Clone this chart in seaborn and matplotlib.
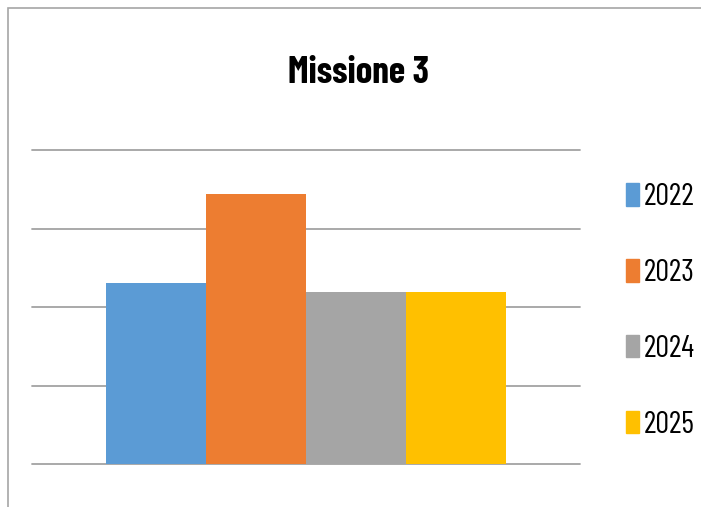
import numpy as np
import pandas as pd
import matplotlib.pyplot as plt
import matplotlib.patches as mpatches
import seaborn as sns

# values (gridlines at 0..4)
anni = ["2022", "2023", "2024", "2025"]
valori = [2.31, 3.44, 2.19, 2.19]
colori = ["#5B9BD5", "#ED7D31", "#A5A5A5", "#FFC000"]
titolo = "Missione 3"

df = pd.DataFrame({
    "gruppo": [titolo] * len(anni),
    "anno": anni,
    "valore": valori
})

sns.set_style("white")
# narrow font, close to the squeezed Calibri of the original
plt.rcParams['font.family'] = ['Barlow Condensed', 'DejaVu Sans']
plt.rcParams['text.color'] = 'black'

fig = plt.figure(figsize=(7.01, 5.07), dpi=100)
ax = fig.add_axes([32 / 701, 43 / 507, 548 / 701, 314 / 507])

sns.barplot(
        data = df,
        x = "gruppo",
        y = "valore",
        hue = "anno",
        palette = colori,
        saturation = 1,
        width = 0.73,
        linewidth = 0,
        ax = ax
        )

ax.set_xlim(-0.5, 0.5)
ax.set_ylim(0, 4)
ax.set_yticks([0, 1, 2, 3, 4])
ax.set_axisbelow(True)
ax.yaxis.grid(True, color = "#a3a3a3", linewidth = 1.3)
for gl in ax.get_ygridlines():
    gl.set_clip_on(False)
ax.xaxis.grid(False)
ax.set_xticks([])
ax.tick_params(left = False, labelleft = False)
ax.set_xlabel("")
ax.set_ylabel("")
for s in ax.spines.values():
    s.set_visible(False)

# legend on the right
handles = [mpatches.Rectangle((0, 0), 1, 1, color = c) for c in colori]
ax.legend(
        handles, anni,
        loc = "upper left",
        bbox_to_anchor = (626 / 701, (507 - 183) / 507),
        bbox_transform = fig.transFigure,
        frameon = False,
        fontsize = 22,
        labelcolor = "black",
        handlelength = 0.42,
        handleheight = 0.75,
        handletextpad = 0.16,
        labelspacing = 1.57,
        borderpad = 0,
        borderaxespad = 0
        )

fig.text(359 / 701, (507 - 73) / 507, titolo,
         ha = "center", va = "center", fontsize = 27, fontweight = "bold",
         color = "black")

# chart area border (only left and top visible)
fig.add_artist(mpatches.Rectangle(
        (8 / 701, -0.1), 1.2, (507 - 8) / 507 + 0.1,
        transform = fig.transFigure, fill = False,
        edgecolor = "#a6a6a6", linewidth = 1.2))

fig.savefig("out.png", dpi=100)
